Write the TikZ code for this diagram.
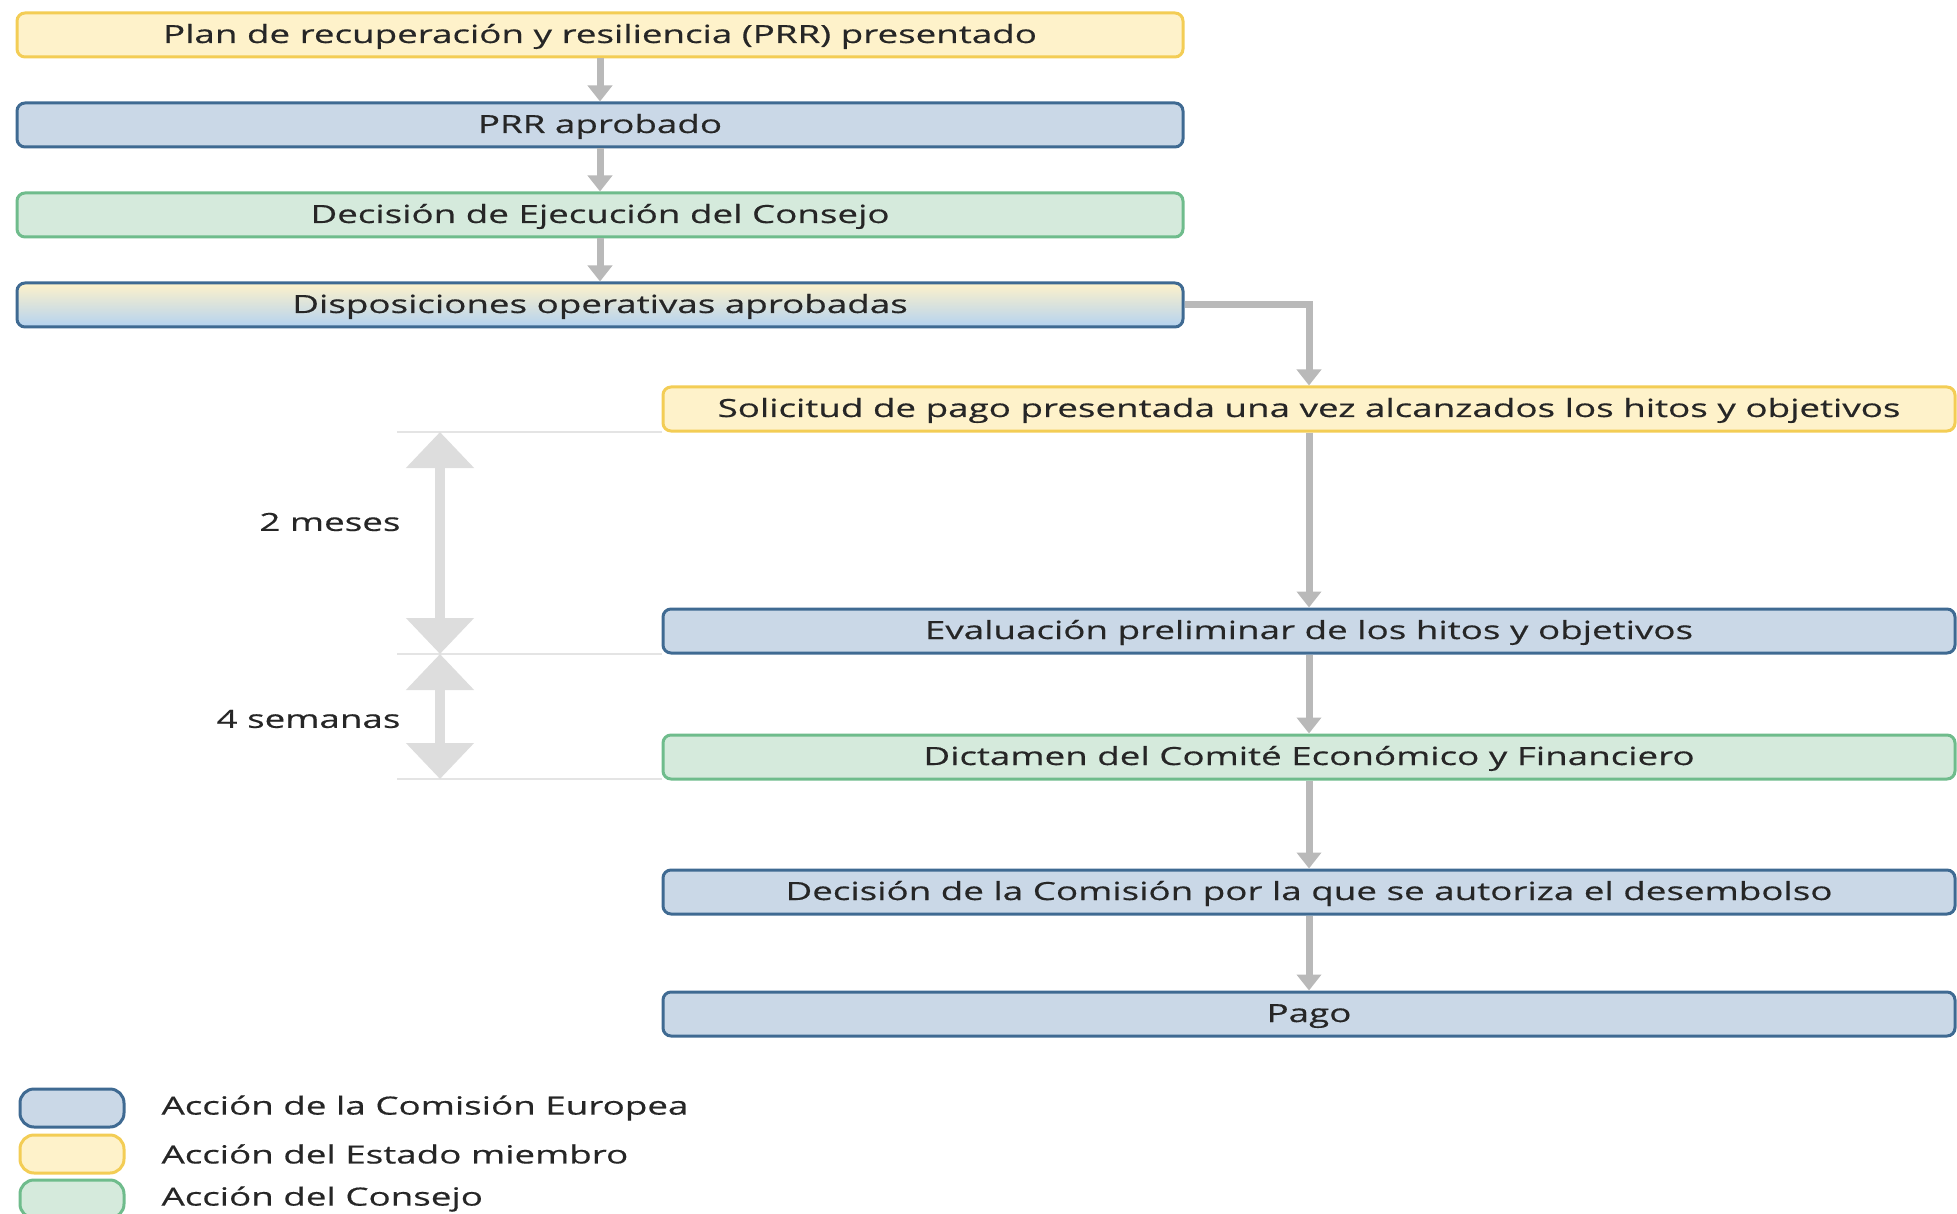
\documentclass[tikz,border=0pt]{standalone}
\usepackage{fontspec}
\setmainfont{Open Sans}
\newfontfamily\widesans[FakeStretch=1.47,FakeBold=0.5]{Open Sans}
\usetikzlibrary{arrows.meta,positioning}

\definecolor{ecfill}{HTML}{CAD8E7}
\definecolor{ecline}{HTML}{3F6A92}
\definecolor{msfill}{HTML}{FEF2CA}
\definecolor{msline}{HTML}{F3CD55}
\definecolor{cofill}{HTML}{D5EADC}
\definecolor{coline}{HTML}{6FBC8C}
\definecolor{gradblue}{HTML}{B4D2F0}
\definecolor{flowgray}{HTML}{B9B9B9}
\definecolor{spangray}{HTML}{DDDDDD}

\begin{document}
\begin{tikzpicture}[x=1pt,y=1pt,
  txt/.style={font=\widesans\fontsize{25}{30}\selectfont,text=black!85},
  box/.style={txt,rounded corners=8pt,line width=3pt,minimum height=44pt,inner sep=0pt,
    text height=20pt,text depth=4pt},
  leftcol/.style={box,minimum width=1166pt},
  rightcol/.style={box,minimum width=1292pt},
  ec/.style={draw=ecline,fill=ecfill},
  ms/.style={draw=msline,fill=msfill},
  co/.style={draw=coline,fill=cofill},
  flow/.style={color=flowgray,line width=7pt,-{Triangle[width=24pt,length=16pt]}},
  span/.style={color=spangray,line width=10pt,
    {Triangle[width=66pt,length=36pt]}-{Triangle[width=66pt,length=36pt]}},
  guide/.style={draw=spangray!80,line width=1.5pt},
  keybox/.style={rounded corners=14pt,line width=3pt,minimum width=104pt,minimum height=38pt},
  keytext/.style={txt,anchor=west}]
 \useasboundingbox (0,0) rectangle (1957,-1214);

 % left column
 \node[leftcol,ms] (plan) at (600,-35) {Plan de recuperación y resiliencia (PRR) presentado};
 \node[leftcol,ec] (prr) at (600,-125) {PRR aprobado};
 \node[leftcol,co] (ced) at (600,-215) {Decisión de Ejecución del Consejo};
 \node[leftcol,draw=ecline,top color=msfill,middle color=msfill,bottom color=gradblue] (disp) at (600,-305) {Disposiciones operativas aprobadas};

 % right column
 \node[rightcol,ms] (sol) at (1309,-409) {Solicitud de pago presentada una vez alcanzados los hitos y objetivos};
 \node[rightcol,ec] (eval) at (1309,-631) {Evaluación preliminar de los hitos y objetivos};
 \node[rightcol,co] (cef) at (1309,-757) {Dictamen del Comité Económico y Financiero};
 \node[rightcol,ec] (desemb) at (1309,-892) {Decisión de la Comisión por la que se autoriza el desembolso};
 \node[rightcol,ec] (pago) at (1309,-1014) {Pago};

 \path[flow,draw]
  (plan) edge (prr)
  (prr) edge (ced)
  (ced) edge (disp)
  (sol) edge (eval)
  (eval) edge (cef)
  (cef) edge (desemb)
  (desemb) edge (pago);
 \draw[flow] (disp.east) -| (sol.north);

 % plazos
 \coordinate (g1) at (397,-432);
 \coordinate (g2) at (397,-654);
 \coordinate (g3) at (397,-779);
 \draw[guide] (g1) -- (g1 -| sol.west);
 \draw[guide] (g2) -- (g2 -| eval.west);
 \draw[guide] (g3) -- (g3 -| cef.west);
 \coordinate (s1) at (440,-432);
 \coordinate (s2) at (440,-654);
 \coordinate (s3) at (440,-779);
 \draw[span] (s1) -- (s2);
 \draw[span] (s2) -- (s3);
 \node[txt,anchor=east] (dosmeses) at (404,-522) {2 meses};
 \node[txt,anchor=east] (cuatrosem) at (404,-719) {4 semanas};

 % leyenda
 \node[keybox,ec] (kec) at (72,-1108) {};
 \node[keybox,ms] (kms) at (72,-1154) {};
 \node[keybox,co] (kco) at (72,-1199) {};
 \node[keytext] (tec) at (158,-1108) {Acción de la Comisión Europea};
 \node[keytext] (tms) at (158,-1154) {Acción del Estado miembro};
 \node[keytext] (tco) at (158,-1199) {Acción del Consejo};
\end{tikzpicture}
\end{document}
